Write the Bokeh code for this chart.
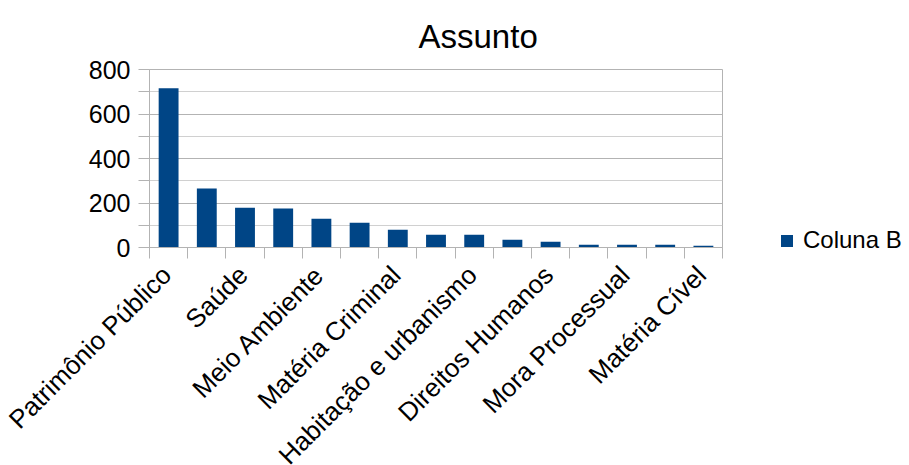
from bokeh.plotting import figure
from bokeh.models import ColumnDataSource, FixedTicker, Range1d, Legend, LegendItem
from bokeh.embed import file_html
from bokeh.resources import INLINE
import math

# Data (15 categories; only every other label is shown in the reference)
labels = ["Patrimônio Público", "", "Saúde", "", "Meio Ambiente", "", "Matéria Criminal", "",
          "Habitação e urbanismo", "", "Direitos Humanos", "", "Mora Processual", "", "Matéria Cível"]
values = [716, 265, 179, 175, 129, 111, 80, 57, 57, 35, 26, 12, 12, 12, 8]
series_name = "Coluna B"
y_ticks = [0, 200, 400, 600, 800]
y_minor = [100, 300, 500, 700]

xs = [i + 0.5 for i in range(len(values))]
src = ColumnDataSource(dict(x=xs, top=values))

FONT = "Liberation Sans"
GRID = "#b3b3b3"

p = figure(frame_width=573, frame_height=178, output_backend="svg", toolbar_location=None,
           x_range=Range1d(0, len(values)), y_range=Range1d(0, 800),
           min_border_left=149, min_border_right=0, min_border_top=69, min_border_bottom=218,
           title="Assunto")
p.background_fill_color = "white"
p.border_fill_color = "white"
p.outline_line_color = GRID

r = p.vbar(x="x", top="top", width=0.52, source=src, fill_color="#004586", line_color=None)

p.title.text_font = FONT
p.title.text_font_size = "33px"
p.title.text_font_style = "normal"
p.title.text_color = "black"
p.title.align = "left"
p.title.vertical_align = "bottom"
p.title.offset = 269
p.title.standoff = 30

# x axis: labels slightly left of the bar centres so the rotated text ends at the bar
label_x = [x - 0.05 for x in xs]
xa = p.xaxis[0]
xa.ticker = FixedTicker(ticks=label_x, minor_ticks=list(range(len(values) + 1)))
xa.major_label_overrides = {x: lab for x, lab in zip(label_x, labels)}
xa.major_label_orientation = math.pi / 4
xa.major_label_text_font = FONT
xa.major_label_text_font_size = "26px"
xa.major_label_text_color = "black"
xa.major_tick_out = 0
xa.major_tick_in = 0
xa.minor_tick_out = 11
xa.minor_tick_in = 0
xa.minor_tick_line_color = GRID
xa.axis_line_color = GRID
xa.major_label_standoff = 12

# y axis
ya = p.yaxis[0]
ya.ticker = FixedTicker(ticks=y_ticks, minor_ticks=y_minor)
ya.major_label_text_font = FONT
ya.major_label_text_font_size = "25px"
ya.major_label_text_color = "black"
ya.major_tick_out = 11
ya.major_tick_in = 0
ya.minor_tick_out = 11
ya.minor_tick_in = 0
ya.major_tick_line_color = GRID
ya.minor_tick_line_color = GRID
ya.axis_line_color = GRID
ya.major_label_standoff = 8

p.xgrid.visible = False
p.ygrid.grid_line_color = GRID
p.ygrid.minor_grid_line_color = "#d0d0d0"

legend = Legend(items=[LegendItem(label=series_name, renderers=[r])],
                location=(57, -7), padding=0, margin=0, spacing=0,
                glyph_width=15, glyph_height=15, label_standoff=9,
                label_text_font=FONT, label_text_font_size="24px",
                label_text_color="black", border_line_color=None,
                background_fill_alpha=0)
p.add_layout(legend, "right")
p.min_border_right = 187

open("out.html", "w").write(file_html(p, INLINE))
